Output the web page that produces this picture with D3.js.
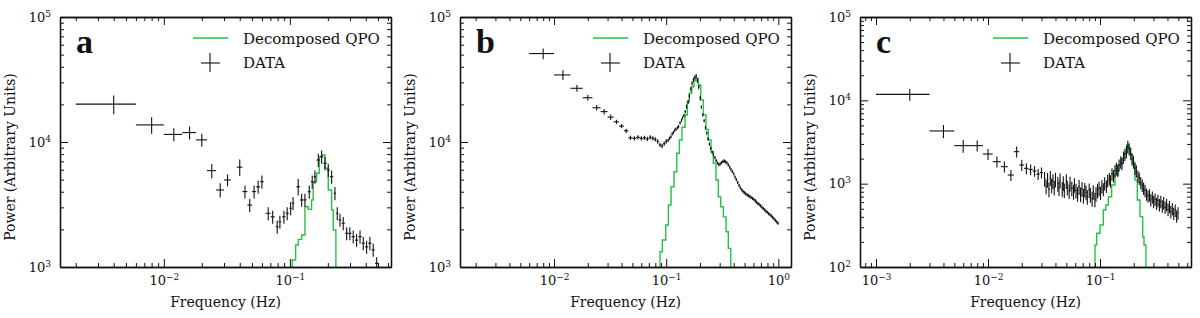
<!DOCTYPE html>
<html>
<head>
<meta charset="utf-8">
<script src="https://cdn.jsdelivr.net/npm/d3@7"></script>
<style>
  body { margin: 0; background: #fff; }
</style>
</head>
<body>
<svg id="chart" width="1200" height="318"></svg>
<script>
'use strict';

// panel a: data crosses (Hz, power, error %) and decomposed QPO histogram
var aFreq = [0.004, 0.008, 0.012, 0.016, 0.020, 0.024, 0.028, 0.032, 0.040, 0.044,
    0.048, 0.052, 0.056, 0.060, 0.0673, 0.0730, 0.0793, 0.0833, 0.0896, 0.0952,
    0.1014, 0.106, 0.1164, 0.124, 0.1316, 0.1424, 0.1503, 0.158, 0.168, 0.1786,
    0.19, 0.2015, 0.2143, 0.2277, 0.2375, 0.2496, 0.265, 0.282, 0.299, 0.318,
    0.338, 0.36, 0.382, 0.406, 0.431, 0.458, 0.488];
var aPower = [20100, 13700, 11500, 11900, 10400, 5900, 4130, 4970, 6290, 4010,
    3130, 4010, 4380, 4810, 2690, 2520, 2100, 2300, 2520, 2690,
    2950, 3240, 4390, 3440, 3440, 4000, 4810, 5270, 7180, 7620,
    6760, 5970, 5270, 3890, 2690, 2380, 2240, 1860, 1860, 1750,
    1640, 1750, 1550, 1450, 1550, 1370, 1070];
var aErr = [17, 15, 12, 12, 12, 13, 13, 11, 15, 12,
    12, 12, 12, 12, 12, 12, 12, 12, 12, 12,
    12, 12, 15, 12, 12, 12, 12, 12, 12, 12,
    12, 12, 12, 12, 12, 12, 12, 12, 12, 12,
    12, 12, 12, 12, 12, 12, 12];
var aQpoEdges = [0.1043, 0.111, 0.1164, 0.1239, 0.1316, 0.1397, 0.1486, 0.153, 0.1629, 0.171,
    0.1786, 0.1897, 0.2015, 0.2143, 0.2208, 0.2317];
var aQpoPower = [1137, 1500, 1664, 1803, 3033, 2891, 3436, 4810, 5620, 7620,
    7870, 6160, 4130, 2858, 1977];

// panel b
var bFreq = [0.008, 0.012, 0.016, 0.020, 0.024, 0.028, 0.032, 0.036, 0.040, 0.044,
    0.048, 0.052, 0.056, 0.060, 0.064, 0.068, 0.072, 0.076, 0.080, 0.084,
    0.088, 0.092, 0.096, 0.100,
    0.104, 0.107, 0.110, 0.113, 0.116, 0.119, 0.122, 0.126, 0.129, 0.133,
    0.137, 0.140, 0.144, 0.148, 0.152, 0.157, 0.161, 0.166, 0.170, 0.175,
    0.180, 0.185, 0.190, 0.195, 0.201, 0.206, 0.212, 0.218, 0.224, 0.230,
    0.237, 0.243, 0.250, 0.257, 0.264, 0.272, 0.279, 0.287, 0.295, 0.303,
    0.312, 0.321, 0.330, 0.339, 0.348, 0.358, 0.368, 0.378, 0.389, 0.400,
    0.411, 0.422, 0.434, 0.446, 0.459, 0.472, 0.485, 0.498, 0.512, 0.527,
    0.541, 0.557, 0.572, 0.588, 0.605, 0.622, 0.639, 0.657, 0.675, 0.694,
    0.714, 0.734, 0.754, 0.775, 0.797, 0.819, 0.842, 0.866, 0.890, 0.915,
    0.941, 0.967, 0.994];
var bPower = [51000, 34400, 26900, 22600, 18800, 17500, 15800, 14500, 13400, 12300,
    10800, 10700, 10900, 10700, 10800, 10600, 10900, 10700, 10500, 10100,
    9500, 9300, 9700, 10100,
    10300, 10700, 11000, 11600, 11900, 12400, 12700, 13000, 13300, 14200,
    14900, 15600, 16300, 17500, 19200, 21000, 23300, 26500, 29500, 31500,
    32800, 33700, 31000, 27500, 22500, 19000, 16500, 14800, 13000, 11800,
    10600, 9600, 8900, 8300, 7900, 7500, 7100, 6800, 6600, 6700,
    6850, 7000, 7050, 6950, 6800, 6550, 6300, 6050, 5800, 5550,
    5250, 5000, 4750, 4500, 4300, 4150, 4020, 3930, 3850, 3780,
    3720, 3660, 3600, 3540, 3470, 3390, 3300, 3230, 3160, 3090,
    3010, 2930, 2860, 2800, 2740, 2680, 2620, 2560, 2500, 2430,
    2360, 2300, 2240];
var bErr = [10, 9, 6, 5, 5, 5, 5, 4, 4, 4,
    4, 4, 4, 4, 4, 4, 4, 4, 4, 4,
    4, 4, 4, 4,
    3, 3, 3, 3, 3, 3, 3, 3, 3, 3,
    3, 3, 3, 3, 4, 4, 4, 4, 4, 4,
    4, 4, 4, 4, 4, 3, 3, 3, 3, 3,
    3, 3, 3, 3, 3, 3, 3, 3, 3, 3,
    3, 3, 3, 3, 3, 3, 3, 3, 3, 3,
    3, 3, 3, 3, 3, 3, 3, 3, 3, 3,
    3, 3, 3, 3, 3, 3, 3, 3, 3, 3,
    3, 3, 3, 3, 3, 3, 3, 3, 3, 3,
    3, 3, 3];
var bQpoEdges = [0.0881, 0.0924, 0.0991, 0.1045, 0.1105, 0.1175, 0.1242, 0.131, 0.1384, 0.1473,
    0.1544, 0.1608, 0.169, 0.177, 0.1845, 0.1935, 0.2034, 0.2145, 0.2266, 0.2375,
    0.251, 0.263, 0.278, 0.2915, 0.306, 0.3235, 0.342, 0.358, 0.3765];
var bQpoPower = [1326, 1644, 2168, 3133, 4380, 5780, 8120, 10380, 13130, 16440,
    20990, 24550, 27700, 30920, 32350, 28580, 21680, 16440, 12600, 10380,
    8360, 6760, 4970, 3650, 3030, 2520, 1916, 1410];

// panel c
var cFreq = [0.002, 0.004, 0.006, 0.008, 0.010, 0.012, 0.014, 0.016, 0.018, 0.020,
    0.022, 0.024, 0.026, 0.028, 0.030,
    0.032, 0.033, 0.034, 0.035, 0.036, 0.037, 0.038, 0.039, 0.040, 0.042,
    0.043, 0.044, 0.046, 0.047, 0.048, 0.050, 0.051, 0.053, 0.054, 0.056,
    0.058, 0.059, 0.061, 0.063, 0.065, 0.067, 0.069, 0.071, 0.073, 0.075,
    0.077, 0.080, 0.082, 0.085, 0.087, 0.090, 0.092, 0.095, 0.098, 0.101,
    0.104, 0.107, 0.110, 0.114, 0.117, 0.121, 0.124, 0.128, 0.132, 0.136,
    0.140, 0.144, 0.148, 0.153, 0.157, 0.162, 0.167, 0.172, 0.177, 0.182,
    0.188, 0.193, 0.199, 0.205, 0.211, 0.218, 0.224, 0.231, 0.238, 0.245,
    0.252, 0.260, 0.268, 0.276, 0.284, 0.293, 0.301, 0.310, 0.320, 0.329,
    0.339, 0.349, 0.360, 0.370, 0.381, 0.393, 0.405, 0.417, 0.429, 0.442,
    0.455, 0.469, 0.483, 0.497];
var cPower = [11800, 4290, 2860, 2860, 2270, 1836, 1600, 1270, 2420, 1675,
    1528, 1480, 1420, 1300, 1360,
    1150, 930, 1120, 860, 1180, 960, 1080, 900, 1130, 1000,
    890, 1100, 870, 1020, 840, 1080, 900, 820, 1010, 880,
    800, 970, 830, 760, 920, 750, 870, 720, 850, 790,
    700, 840, 740, 660, 800, 650, 760, 830, 880, 780,
    930, 860, 1010, 930, 1090, 1150, 1080, 1310, 1240, 1430,
    1520, 1440, 1670, 1820, 1740, 2080, 2250, 2420, 2800, 2620,
    2300, 1980, 1820, 1530, 1420, 1230, 1160, 1030, 960, 880,
    830, 750, 710, 730, 640, 690, 610, 650, 580, 630,
    560, 610, 540, 590, 520, 560, 490, 530, 460, 500,
    440, 480, 410, 445];
var cErr = [16, 18, 18, 15, 15, 15, 15, 15, 15, 15,
    15, 15, 15, 15, 15,
    20, 20, 20, 20, 20, 20, 20, 20, 20, 20,
    20, 20, 20, 20, 20, 20, 20, 20, 20, 20,
    20, 20, 20, 20, 20, 20, 20, 20, 20, 20,
    20, 20, 20, 20, 20, 20, 20, 20, 20, 18,
    18, 18, 18, 17, 17, 17, 17, 17, 17, 17,
    17, 17, 17, 17, 17, 17, 17, 17, 17, 17,
    17, 17, 17, 17, 17, 17, 17, 17, 17, 17,
    17, 17, 17, 17, 17, 17, 17, 17, 17, 17,
    17, 17, 17, 17, 17, 17, 17, 17, 17, 17,
    17, 17, 17, 17];
var cQpoEdges = [0.0902, 0.0934, 0.1, 0.107, 0.1125, 0.1187, 0.127, 0.136, 0.1457, 0.156,
    0.1637, 0.173, 0.179, 0.1853, 0.196, 0.205, 0.215, 0.2275, 0.2404, 0.247, 0.257];
var cQpoPower = [184, 254, 319, 483, 555, 698, 964, 1271, 1675, 2014,
    2312, 2911, 2680, 2208, 1754, 1107, 637, 402, 231, 184];

var panelLetters = ['a', 'b', 'c'];
var freqRanges = [[0.0015, 0.634], [0.00145, 1.297], [0.000719, 0.649]];
var powerRanges = [[1e3, 1e5], [1e3, 1e5], [1e2, 1e5]];
var legendLabels = ['Decomposed QPO', 'DATA'];
var xTitle = 'Frequency (Hz)';
var yTitle = 'Power (Arbitrary Units)';

var svg = d3.select('#chart');
var plotLefts = [60, 460, 860];
var plotWidth = 331;
var plotTop = 17;
var plotBottom = 267;
var qpoColor = '#27c144';
var ink = '#111';
var serif = '"DejaVu Serif", serif';

var panels = [
    { freq: aFreq, power: aPower, err: aErr, qpoEdges: aQpoEdges, qpoPower: aQpoPower },
    { freq: bFreq, power: bPower, err: bErr, qpoEdges: bQpoEdges, qpoPower: bQpoPower },
    { freq: cFreq, power: cPower, err: cErr, qpoEdges: cQpoEdges, qpoPower: cQpoPower }
];

panels.forEach(drawPanel);

function isDecade(v) {
    var l = Math.log10(v);
    return Math.abs(l - Math.round(l)) < 1e-6;
}

function supLabel(sel) {
    // "10" followed by a raised exponent
    sel.each(function(d) {
        var e = Math.round(Math.log10(d));
        var t = d3.select(this).text('10');
        t.append('tspan')
            .attr('dy', '-0.55em')
            .attr('font-size', 9)
            .text(e < 0 ? '\u2212' + (-e) : String(e));
    });
}

function styleAxis(a) {
    a.attr('font-family', serif).attr('font-size', 13);
    a.select('.domain').attr('stroke', ink).attr('stroke-width', 1.3);
    a.selectAll('.tick line').attr('stroke', ink).attr('stroke-width', 1);
    a.selectAll('.tick text').attr('fill', ink);
}

// one side of the frame: minor ticks, major ticks, optional labels
function drawSide(g, axisFn, scale, minor, major, pos, labelled) {
    var minorG = g.append('g').attr('transform', pos)
        .call(axisFn(scale).tickValues(minor).tickSize(-4).tickSizeOuter(0).tickFormat(''));
    styleAxis(minorG);
    var majorAxis = axisFn(scale).tickValues(major).tickSize(-8).tickSizeOuter(0).tickPadding(9);
    if (!labelled) majorAxis.tickFormat('');
    var majorG = g.append('g').attr('transform', pos).call(majorAxis);
    styleAxis(majorG);
    if (labelled) majorG.selectAll('.tick text').call(supLabel);
}

function drawPanel(p, i) {
    var left = plotLefts[i];
    var x = d3.scaleLog().domain(freqRanges[i]).range([left, left + plotWidth]);
    var y = d3.scaleLog().domain(powerRanges[i]).range([plotBottom, plotTop]);
    var floor = powerRanges[i][0] / 3;

    var g = svg.append('g');

    g.append('clipPath').attr('id', 'clip' + i)
        .append('rect')
        .attr('x', left).attr('y', plotTop)
        .attr('width', plotWidth).attr('height', plotBottom - plotTop);

    var plot = g.append('g').attr('clip-path', 'url(#clip' + i + ')');

    // QPO histogram
    var steps = [{ f: p.qpoEdges[0], v: floor }];
    p.qpoPower.forEach(function(v, k) { steps.push({ f: p.qpoEdges[k], v: v }); });
    steps.push({ f: p.qpoEdges[p.qpoEdges.length - 1], v: p.qpoPower[p.qpoPower.length - 1] });
    steps.push({ f: p.qpoEdges[p.qpoEdges.length - 1], v: floor });

    plot.append('path')
        .datum(steps)
        .attr('fill', 'none')
        .attr('stroke', qpoColor)
        .attr('stroke-width', 1.4)
        .attr('d', d3.line()
            .curve(d3.curveStepAfter)
            .x(function(d) { return x(d.f); })
            .y(function(d) { return y(d.v); }));

    // data crosses
    var pts = p.freq.map(function(f, k) {
        var prev = k > 0 ? f - p.freq[k - 1] : Infinity;
        var next = k < p.freq.length - 1 ? p.freq[k + 1] - f : Infinity;
        var hw = Math.min(prev, next) / 2;
        var s = p.power[k] * p.err[k] / 100;
        return { f: f, v: p.power[k], lo: f - hw, hi: f + hw, vlo: p.power[k] - s, vhi: p.power[k] + s };
    });

    var cross = plot.append('g')
        .attr('stroke', ink)
        .attr('stroke-width', 1.1);

    cross.selectAll('.hbar')
        .data(pts)
        .enter().append('line')
        .attr('x1', function(d) { return x(d.lo); })
        .attr('x2', function(d) { return x(d.hi); })
        .attr('y1', function(d) { return y(d.v); })
        .attr('y2', function(d) { return y(d.v); });

    cross.selectAll('.vbar')
        .data(pts)
        .enter().append('line')
        .attr('x1', function(d) { return x(d.f); })
        .attr('x2', function(d) { return x(d.f); })
        .attr('y1', function(d) { return y(d.vlo); })
        .attr('y2', function(d) { return y(d.vhi); });

    // axes on all four sides, ticks pointing in
    var xt = x.ticks();
    var yt = y.ticks();
    var xMajor = xt.filter(isDecade);
    var xMinor = xt.filter(function(v) { return !isDecade(v); });
    var yMajor = yt.filter(isDecade);
    var yMinor = yt.filter(function(v) { return !isDecade(v); });

    drawSide(g, d3.axisBottom, x, xMinor, xMajor, 'translate(0,' + plotBottom + ')', true);
    drawSide(g, d3.axisTop, x, xMinor, xMajor, 'translate(0,' + plotTop + ')', false);
    drawSide(g, d3.axisLeft, y, yMinor, yMajor, 'translate(' + left + ',0)', true);
    drawSide(g, d3.axisRight, y, yMinor, yMajor, 'translate(' + (left + plotWidth) + ',0)', false);

    // titles
    g.append('text')
        .attr('x', left + plotWidth / 2)
        .attr('y', 307)
        .attr('text-anchor', 'middle')
        .attr('font-family', serif)
        .attr('font-size', 14)
        .attr('fill', ink)
        .text(xTitle);

    g.append('text')
        .attr('transform', 'translate(' + (left - 45) + ',157) rotate(-90)')
        .attr('text-anchor', 'middle')
        .attr('font-family', serif)
        .attr('font-size', 14)
        .attr('fill', ink)
        .text(yTitle);

    g.append('text')
        .attr('x', left + 16)
        .attr('y', 53)
        .attr('font-family', '"Liberation Serif", serif')
        .attr('font-weight', 'bold')
        .attr('font-size', 34)
        .attr('fill', ink)
        .text(panelLetters[i]);

    // legend
    var lg = g.append('g')
        .attr('font-family', serif)
        .attr('font-size', 15)
        .attr('fill', ink);
    lg.append('line')
        .attr('x1', left + 133).attr('x2', left + 168)
        .attr('y1', 38).attr('y2', 38)
        .attr('stroke', qpoColor).attr('stroke-width', 1.4);
    lg.append('line')
        .attr('x1', left + 141).attr('x2', left + 160)
        .attr('y1', 63).attr('y2', 63)
        .attr('stroke', ink).attr('stroke-width', 1.1);
    lg.append('line')
        .attr('x1', left + 150).attr('x2', left + 150)
        .attr('y1', 53).attr('y2', 72)
        .attr('stroke', ink).attr('stroke-width', 1.1);
    lg.append('text').attr('x', left + 183).attr('y', 44).text(legendLabels[0]);
    lg.append('text').attr('x', left + 183).attr('y', 68).text(legendLabels[1]);
}
</script>
</body>
</html>
